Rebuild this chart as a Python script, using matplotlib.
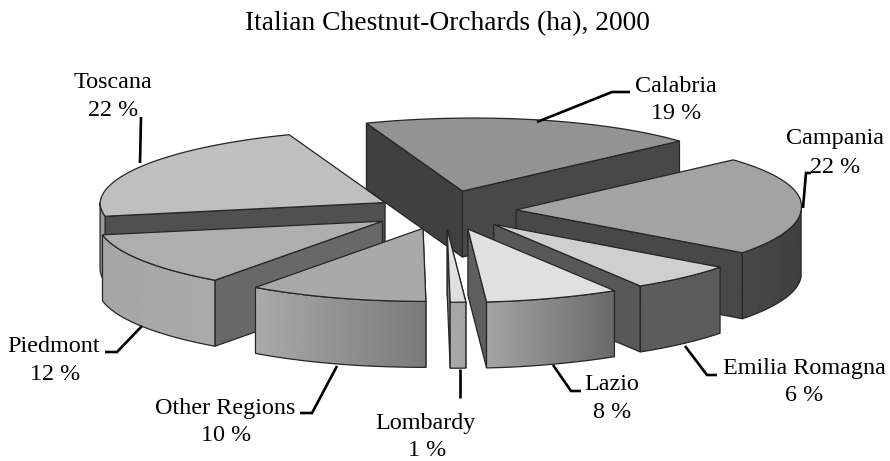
import numpy as np
import matplotlib
matplotlib.use("Agg")
import matplotlib.pyplot as plt
from matplotlib.patches import Polygon

categories = ["Calabria", "Campania", "Emilia Romagna", "Lazio", "Lombardy",
              "Other Regions", "Piedmont", "Toscana"]
values = [19, 22, 6, 8, 1, 10, 12, 22]
explode = [0.28, 0.25, 0.25, 0.26, 0.25, 0.25, 0.26, 0.24]
top_gray = [0x93, 0xA3, 0xCF, 0xE0, 0xE0, 0xA9, 0xAE, 0xBF]
face_start_gray = [0x40, 0x48, 0x58, 0x5E, 0x90, 0xA0, 0x68, 0x50]
face_end_gray = [0x48, 0x48, 0x58, 0x5E, 0x80, 0x80, 0x68, 0x50]
rim_left_gray = [0x48, 0x48, 0x5C, 0xA4, 0xA8, 0xAA, 0xA6, 0x99]
rim_right_gray = [0x48, 0x40, 0x5C, 0x6A, 0xA4, 0x7A, 0xAA, 0x99]
draw_order = [7, 0, 1, 6, 2, 5, 3, 4]

label_name_xy = [(676, 86), (835, 138), (804, 368), (612, 384), (425, 423),
                 (225, 408), (54, 346), (113, 83)]
label_pct_xy = [(676, 113), (835, 167), (804, 395), (612, 412), (427, 450),
                (226, 435), (55, 374), (113, 110)]
leaders = [
    [(537, 122), (612, 92), (630, 92)],
    [(803, 208), (806, 173), (811, 173)],
    [(685, 346), (707, 375), (717, 375)],
    [(553, 365), (571, 391), (581, 391)],
    [(460, 369), (460, 398)],
    [(337, 366), (312, 413), (300, 413)],
    [(142, 326), (117, 352), (105, 352)],
    [(141, 117), (140, 163)],
]

CX, CY = 445, 211
RX, RY = 285, 73
DEPTH = 66
START = -21.6
EDGE = "#262626"


def g(v):
    v = v / 255.0
    return (v, v, v)


def local(theta):
    """Tilted-pie projection of a rim direction (degrees clockwise from top)."""
    t = np.radians(theta)
    x = RX * np.sin(t)
    y = -RY * np.cos(t)
    back = -y * (0.15 + 0.05 * np.sin(t))
    near = np.clip(1 - np.abs(x) / 60, 0, 1)
    front = 0.04 * y * near - 0.1 * y * np.clip(x / 100, 0, 1)
    return x + np.where(y < 0, back, front), y


fig = plt.figure(figsize=(8.9, 4.61), dpi=100, facecolor="white")
ax = fig.add_axes([0, 0, 1, 1])

fracs = np.array(values, dtype=float) / sum(values)
edges = START + 360 * np.concatenate([[0], np.cumsum(fracs)])

for z, i in enumerate(draw_order):
    a0, a1 = edges[i], edges[i + 1]
    mid = 0.5 * (a0 + a1)
    ex = explode[i]
    ox = CX + ex * RX * np.sin(np.radians(mid))
    oy = CY - ex * RY * np.cos(np.radians(mid))
    zo = 2 + z * 0.1
    mx, my = local(mid)

    # radial walls: only those whose wedge lies above them on screen are seen
    for ang, col in ((a0, face_start_gray[i]), (a1, face_end_gray[i])):
        rx, ry = local(ang)
        rx, ry = float(rx), float(ry)
        line_y = (ry / rx * mx) if abs(rx) > 1e-6 else None
        visible = (line_y is None) or (my < line_y) or abs(rx) < 25
        if not visible:
            continue
        wall = [(ox, oy), (ox + rx, oy + ry), (ox + rx, oy + ry + DEPTH), (ox, oy + DEPTH)]
        ax.add_patch(Polygon(wall, closed=True, fc=g(col), ec=EDGE, lw=0.9, zorder=zo))

    # outer rim, front half only, with a left-to-right gradient
    r0, r1 = max(a0, 90), min(a1, 270)
    if r1 > r0:
        th = np.linspace(r0, r1, 90)
        rx, ry = local(th)
        px, py = ox + rx, oy + ry
        outline = np.vstack([np.c_[px, py], np.c_[px[::-1], py[::-1] + DEPTH]])
        clip = Polygon(outline, closed=True, fc="none", ec=EDGE, lw=0.9, zorder=zo + 0.02)
        ax.add_patch(clip)
        grad = np.linspace(rim_left_gray[i], rim_right_gray[i], 128)[None, :]
        im = ax.imshow(grad, extent=(px.min(), px.max(), py.max() + DEPTH, py.min()),
                       cmap="gray", vmin=0, vmax=255, aspect="auto",
                       interpolation="bilinear", zorder=zo + 0.01)
        im.set_clip_path(clip)

    # top
    th = np.linspace(a0, a1, 120)
    rx, ry = local(th)
    top = np.vstack([[ox, oy], np.c_[ox + rx, oy + ry]])
    ax.add_patch(Polygon(top, closed=True, fc=g(top_gray[i]), ec=EDGE, lw=0.9,
                         joinstyle="miter", zorder=zo + 0.03))

ax.set_xlim(0, 890)
ax.set_ylim(461, 0)
ax.axis("off")

FONT = "Liberation Serif"
ax.text(447, 24, "Italian Chestnut-Orchards (ha), 2000", family=FONT, fontsize=19.8,
        ha="center", va="center", color="black", zorder=30)

for i, name in enumerate(categories):
    lx, ly = zip(*leaders[i])
    ax.plot(lx, ly, color="black", lw=1.9, solid_joinstyle="miter",
            solid_capstyle="butt", zorder=25)
    ax.text(*label_name_xy[i], name, family=FONT, fontsize=17.4, ha="center", va="center",
            color="black", zorder=30)
    ax.text(*label_pct_xy[i], f"{values[i]} %", family=FONT, fontsize=17.4, ha="center",
            va="center", color="black", zorder=30)

fig.savefig("out.png", dpi=100, facecolor="white")
